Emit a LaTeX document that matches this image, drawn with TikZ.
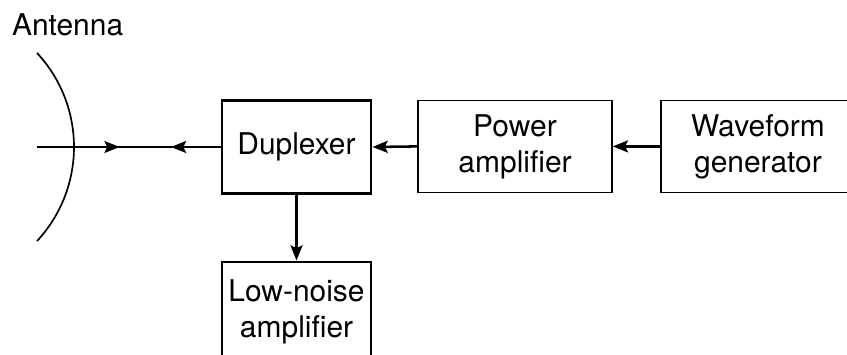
\documentclass[tikz,border=0pt]{standalone}
\usepackage{fontspec}
\setmainfont{TeX Gyre Heros}
\usetikzlibrary{arrows.meta,decorations.markings}
\tikzset{
  blockbig/.style={draw, line width=2.1pt, minimum width=3.725cm, minimum height=2.325cm, align=center, inner sep=0pt},
  blockthin/.style={draw, line width=1.1pt, minimum width=4.85cm, minimum height=2.3cm, align=center, inner sep=0pt},
  sig/.style={line width=1.8pt, -{Stealth[length=0.38cm, width=0.3cm, inset=0.07cm]}}
}
\begin{document}
\begin{tikzpicture}[font=\fontsize{21.3}{25.6}\selectfont]
\useasboundingbox (0,0) rectangle (21.175,8.85);
\clip (0,0) rectangle (21.175,8.85);
% Antenna
\node[anchor=base] (antlbl) at (1.69,7.97) {Antenna};
\coordinate (anttop) at (0.923,7.528);
\coordinate (feed) at (0.925,5.175);
\draw[line width=1.2pt] (anttop) arc[start angle=43, end angle=-43, radius=3.45];
% Blocks
\node[blockbig] (dup) at (7.4125,5.175) {Duplexer};
\node[blockthin] (pamp) at (12.875,5.19) {Power\\amplifier};
\node[blockthin] (wgen) at (18.95,5.19) {Waveform\\generator};
\node[blockbig, minimum height=2.5cm] (lna) at (7.4125,1.05) {Low-noise\\amplifier};
% Signal paths
\draw[line width=1.2pt, postaction={decorate}, decoration={markings,
  mark=at position 0.45 with {\arrow{Stealth[length=0.38cm, width=0.3cm, inset=0.07cm]}},
  mark=at position 0.73 with {\arrowreversed{Stealth[length=0.38cm, width=0.3cm, inset=0.07cm]}}}]
  (feed) -- (dup.west);
\draw[sig] (pamp.west) -- (dup.east);
\draw[sig, line width=1.6pt] (wgen.west) -- (pamp.east);
\draw[sig] (dup.south) -- (lna.north);
\end{tikzpicture}
\end{document}
